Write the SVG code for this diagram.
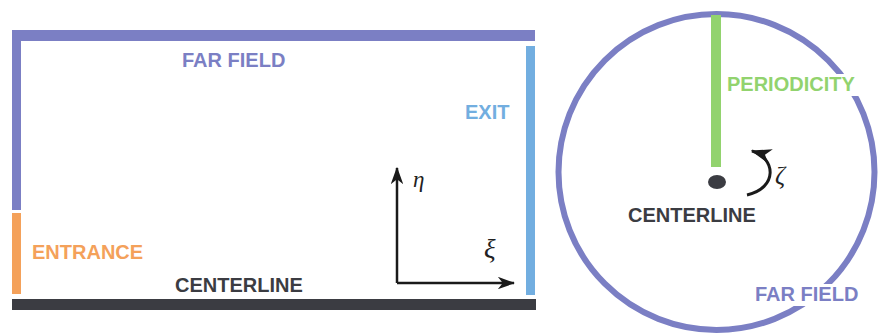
<svg xmlns="http://www.w3.org/2000/svg" width="879" height="334" viewBox="0 0 879 334">
<style>
.lbl{font-family:"Liberation Sans",Arial,sans-serif;font-weight:bold;font-size:20px}
.far{fill:#7b7fc4}
.math{font-family:"Liberation Serif","Times New Roman",serif;font-style:italic;fill:#222}
.ax{stroke:#1a1a1a;stroke-width:2.5;fill:none}
</style>
<defs>
<marker id="ah" viewBox="0 0 14 10" refX="13" refY="5" markerWidth="7" markerHeight="5" orient="auto" markerUnits="strokeWidth">
<path d="M0,0 L14,5 L0,10 L4,5 Z" fill="#1a1a1a"/>
</marker>
</defs>
<rect width="879" height="334" fill="#fff"/>
<g id="domain">
<rect x="12" y="30" width="523" height="11" fill="#7b7fc4"/>
<rect x="12" y="30" width="9" height="180" fill="#7b7fc4"/>
<rect x="12" y="213" width="9" height="81" fill="#f4a15a"/>
<rect x="526" y="46" width="9" height="249" fill="#72aee0"/>
<rect x="12" y="299" width="524" height="11" fill="#3b3c42"/>
</g>
<g id="labels-left">
<text class="lbl far" x="182" y="67">FAR FIELD</text>
<text class="lbl" x="465" y="119" fill="#72aee0">EXIT</text>
<text class="lbl" x="32" y="259" fill="#f4a15a">ENTRANCE</text>
<text class="lbl" x="175" y="292" fill="#3b3c42">CENTERLINE</text>
</g>
<g id="axes">
<path class="ax" d="M397,283 V168" marker-end="url(#ah)"/>
<path class="ax" d="M397,283 H514" marker-end="url(#ah)"/>
<text class="math" x="413" y="187" font-size="23">η</text>
<text class="math" x="484" y="258" font-size="27">ξ</text>
</g>
<g id="section">
<circle cx="716.5" cy="172" r="158" fill="none" stroke="#7b7fc4" stroke-width="6"/>
<rect x="711" y="15" width="10" height="152" fill="#92d36e"/>
<ellipse cx="717" cy="182" rx="9" ry="7" fill="#3b3c42"/>
<rect x="725" y="74" width="135" height="22" fill="#fff"/>
<text class="lbl" x="727" y="91" fill="#92d36e">PERIODICITY</text>
<text class="lbl" x="628" y="222" fill="#3b3c42">CENTERLINE</text>
<rect x="753" y="284" width="108" height="22" fill="#fff"/>
<text class="lbl far" x="755" y="301">FAR FIELD</text>
<path d="M747,195 C778,188 776,158 752,151" stroke="#1a1a1a" stroke-width="3" fill="none" marker-end="url(#ah)"/>
<text class="math" x="775" y="184" font-size="25">ζ</text>
</g>
</svg>
